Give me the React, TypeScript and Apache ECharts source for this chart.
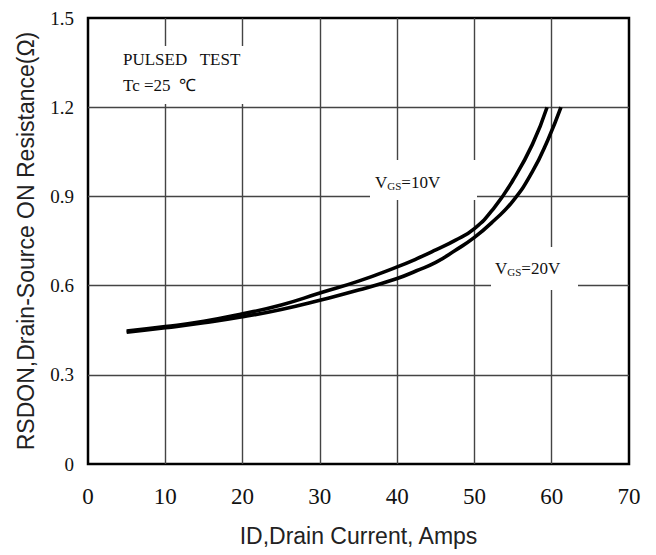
import React, { useEffect, useRef } from "react";
import * as echarts from "echarts";

const xTicks = [0, 10, 20, 30, 40, 50, 60, 70];
const yTicks = [0, 0.3, 0.6, 0.9, 1.2, 1.5];

const vgs10X = [5, 10, 15, 20, 25, 30, 35, 40, 42.5, 45, 47.5, 50, 52.5, 55, 57.5, 59.4];
const vgs10Y = [0.447, 0.462, 0.48, 0.505, 0.535, 0.575, 0.615, 0.663, 0.69, 0.72, 0.752, 0.792, 0.86, 0.955, 1.075, 1.2];

const vgs20X = [5, 10, 15, 20, 25, 30, 35, 40, 42.5, 45, 47.5, 50, 52.5, 55, 57.5, 59.5, 61.2];
const vgs20Y = [0.443, 0.458, 0.475, 0.495, 0.52, 0.551, 0.585, 0.624, 0.65, 0.678, 0.718, 0.762, 0.818, 0.885, 0.983, 1.09, 1.2];

const seriesNames = ["VGS=10V", "VGS=20V"];

export default function App() {
  const ref = useRef<HTMLDivElement>(null);
  useEffect(() => {
    if (!ref.current) return;
    const chart = echarts.init(ref.current, undefined, { renderer: "svg" });
    const serif = "Liberation Serif";
    const sans = "Liberation Sans";
    const lineStyle = { color: "#000", width: 3.6 };
    chart.setOption({
      animation: false,
      backgroundColor: "#fff",
      grid: {
        left: 88,
        right: 27,
        top: 18,
        bottom: 91,
        show: true,
        borderColor: "#000",
        borderWidth: 2.5,
        backgroundColor: "transparent",
      },
      xAxis: {
        type: "value",
        min: xTicks[0],
        max: xTicks[xTicks.length - 1],
        interval: 10,
        name: "ID,Drain Current, Amps",
        nameLocation: "middle",
        nameGap: 60,
        nameTextStyle: { fontFamily: sans, fontSize: 23, color: "#222" },
        axisLine: { show: false },
        axisTick: { show: false },
        axisLabel: { fontFamily: serif, fontSize: 23, color: "#111", margin: 21 },
        splitLine: { show: true, showMinLine: false, showMaxLine: false, lineStyle: { color: "#444", width: 1.4 } },
      },
      yAxis: {
        type: "value",
        min: yTicks[0],
        max: yTicks[yTicks.length - 1],
        interval: 0.3,
        name: "RSDON,Drain-Source ON Resistance(Ω)",
        nameLocation: "middle",
        nameGap: 51,
        nameTextStyle: { fontFamily: sans, fontSize: 23, color: "#222" },
        axisLine: { show: false },
        axisTick: { show: false },
        axisLabel: {
          fontFamily: serif,
          fontSize: 19,
          color: "#111",
          margin: 14,
          formatter: (v: number) => (v === 0 ? "0" : v.toFixed(1)),
        },
        splitLine: { show: true, showMinLine: false, showMaxLine: false, lineStyle: { color: "#444", width: 1.4 } },
      },
      graphic: [
        { type: "rect", z: 1, shape: { x: 100, y: 46, width: 160, height: 58 }, style: { fill: "#fff" } },
        { type: "rect", z: 1, shape: { x: 370, y: 160, width: 107, height: 40 }, style: { fill: "#fff" } },
        { type: "rect", z: 1, shape: { x: 491, y: 247, width: 87, height: 43 }, style: { fill: "#fff" } },
        {
          type: "text",
          z: 3,
          x: 123,
          y: 51,
          style: { text: "PULSED   TEST", fontFamily: serif, fontSize: 17, fill: "#111" },
        },
        {
          type: "text",
          z: 3,
          x: 123,
          y: 77,
          style: { text: "Tc =25  ℃", fontFamily: serif, fontSize: 17, fill: "#111" },
        },
        {
          type: "text",
          z: 3,
          x: 375,
          y: 173,
          style: {
            text: "V{s|GS}=10V",
            fontFamily: serif,
            fontSize: 17,
            fill: "#111",
            rich: { s: { fontFamily: serif, fontSize: 11, fill: "#111", padding: [7, 0, 0, 0] } },
          },
        },
        {
          type: "text",
          z: 3,
          x: 495,
          y: 259,
          style: {
            text: "V{s|GS}=20V",
            fontFamily: serif,
            fontSize: 17,
            fill: "#111",
            rich: { s: { fontFamily: serif, fontSize: 11, fill: "#111", padding: [7, 0, 0, 0] } },
          },
        },
      ],
      series: [
        {
          name: seriesNames[0],
          type: "line",
          z: 5,
          smooth: 0.5,
          showSymbol: false,
          lineStyle,
          data: vgs10X.map((x, i) => [x, vgs10Y[i]]),
        },
        {
          name: seriesNames[1],
          type: "line",
          z: 5,
          smooth: 0.5,
          showSymbol: false,
          lineStyle,
          data: vgs20X.map((x, i) => [x, vgs20Y[i]]),
        },
      ],
    });
    return () => chart.dispose();
  }, []);
  return (
    <div
      ref={ref}
      style={{ position: "absolute", left: 0, top: 0, width: 656, height: 555 }}
    />
  );
}
